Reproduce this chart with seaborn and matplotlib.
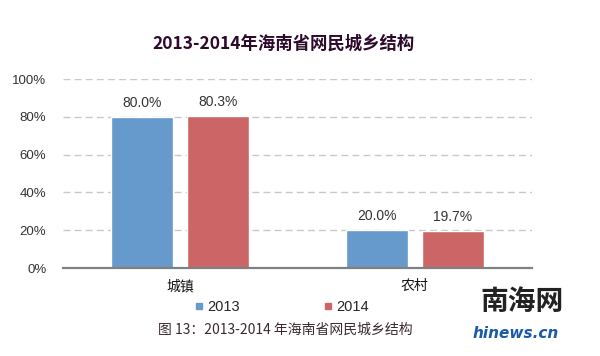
import matplotlib
matplotlib.use("Agg")
import matplotlib.pyplot as plt
import seaborn as sns
import pandas as pd
from matplotlib.ticker import FuncFormatter
from matplotlib.lines import Line2D

categories = ["城镇", "农村"]
years = ["2013", "2014"]
values_2013 = [80.0, 20.0]
values_2014 = [80.3, 19.7]
yticks = [0, 20, 40, 60, 80, 100]

sns.set_theme(style="white")
plt.rcParams['font.family'] = ['Noto Sans CJK SC', 'DejaVu Sans']

df = pd.DataFrame({
    "cat": categories * 2,
    "year": [years[0]] * 2 + [years[1]] * 2,
    "val": values_2013 + values_2014,
})

fig = plt.figure(figsize=(6.0, 3.56), dpi=100)
ax = fig.add_axes([0.105, 0.247, 0.782, 0.531])
palette = {"2013": "#6699CC", "2014": "#CC6666"}
sns.barplot(data=df, x="cat", y="val", hue="year", palette=palette,
            width=0.648, gap=0.184, ax=ax, saturation=1, legend=False)

for cont in ax.containers:
    ax.bar_label(cont, labels=[f"{v:.1f}%" for v in cont.datavalues],
                 padding=5, fontsize=10, color="#333333", family="Liberation Sans")

ax.set_ylim(0, 100)
ax.set_yticks(yticks)
ax.yaxis.set_major_formatter(FuncFormatter(lambda v, p: f"{v:.0f}%"))
ax.tick_params(axis="y", labelsize=9.5, colors="#333333", length=0, pad=12)
ax.tick_params(axis="x", labelsize=10, colors="#111111", length=0, pad=8)
for lbl in ax.get_yticklabels():
    lbl.set_family("Liberation Sans")
ax.set_xlabel("")
ax.set_ylabel("")
ax.yaxis.grid(True, linestyle=(0, (5, 3)), color="#c8c8c8", linewidth=1)
ax.set_axisbelow(True)
for s in ["left", "right", "top"]:
    ax.spines[s].set_visible(False)
ax.spines["bottom"].set_color("#808080")
ax.spines["bottom"].set_linewidth(1.6)

handles = [Line2D([], [], linestyle="none", marker="s", markersize=4,
                  markerfacecolor=palette[y], markeredgecolor=palette[y]) for y in years]
fig.legend(handles, years, loc="center", bbox_to_anchor=(0.47, 0.138), ncol=2,
           frameon=False, handlelength=0.5, handletextpad=0.3,
           columnspacing=5.8, prop={"family": "Liberation Sans", "size": 10.5})

fig.text(0.472, 0.876, "2013-2014年海南省网民城乡结构", ha="center", va="center",
         fontsize=12.5, fontweight="bold", color="#2d0a2a")
fig.text(0.475, 0.075, "图 13：2013-2014 年海南省网民城乡结构", ha="center", va="center",
         fontsize=10, color="#3a2a30")

# watermark text
fig.text(0.87, 0.152, "南海网", ha="center", va="center", fontsize=20,
         fontweight="bold", color="#222222")
fig.text(0.86, 0.062, "hinews.cn", ha="center", va="center", fontsize=11,
         fontweight="bold", fontstyle="italic", color="#1a5aa8", family="DejaVu Sans")

fig.savefig("out.png", dpi=100)
